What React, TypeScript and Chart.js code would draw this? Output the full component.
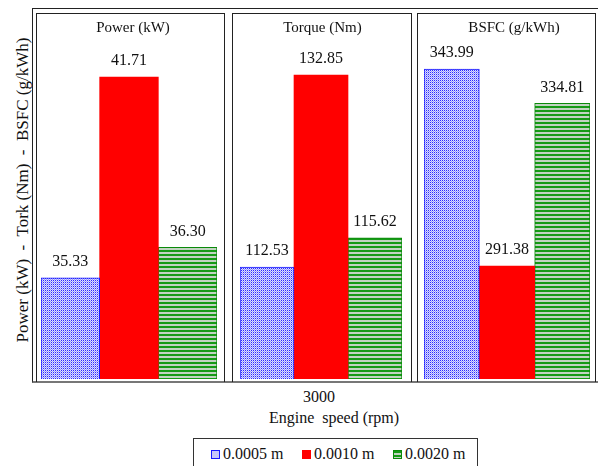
import React, { useEffect, useRef } from "react";
import { Chart, registerables } from "chart.js";
Chart.register(...registerables);

// ---- data ----
const categories = ["3000"];
const panelTitles = ["Power (kW)", "Torque (Nm)", "BSFC (g/kWh)"];
const seriesNames = ["0.0005 m", "0.0010 m", "0.0020 m"];
const series0005 = [35.33, 112.53, 343.99];
const series0010 = [41.71, 132.85, 291.38];
const series0020 = [36.3, 115.62, 334.81];
const axisMin = [32.12, 100.68, 261.2];
const axisMax = [43.71, 139.3, 358.7];

// ---- layout (page pixels) ----
const PANELS = [
  { left: 36, right: 224, padL: 4, padR: 8, titleDx: 2 },
  { left: 232, right: 411, padL: 7, padR: 10, titleDx: 0 },
  { left: 417, right: 595, padL: 6, padR: 6, titleDx: 7 },
];
const PANEL_TOP = 13;
const AXIS_BOTTOM = 381;
const CANVAS_TOP = 14;
const CANVAS_H = 366;
const SERIF = '"Liberation Serif"';

function makeBluePattern(ctx: CanvasRenderingContext2D) {
  const c = document.createElement("canvas");
  c.width = 2;
  c.height = 2;
  const g = c.getContext("2d")!;
  g.fillStyle = "#dcdcff";
  g.fillRect(0, 0, 2, 2);
  g.fillStyle = "#2a2aff";
  g.fillRect(0, 0, 1, 1);
  g.fillStyle = "#9a9aff";
  g.fillRect(1, 1, 1, 1);
  return ctx.createPattern(c, "repeat")!;
}

function makeGreenPattern(ctx: CanvasRenderingContext2D) {
  const c = document.createElement("canvas");
  c.width = 4;
  c.height = 4;
  const g = c.getContext("2d")!;
  g.fillStyle = "#c2d3c2";
  g.fillRect(0, 0, 4, 4);
  g.fillStyle = "#169a16";
  g.fillRect(0, 0, 4, 2);
  return ctx.createPattern(c, "repeat")!;
}

function Panel({ idx }: { idx: number }) {
  const ref = useRef<HTMLCanvasElement | null>(null);
  const p = PANELS[idx];
  const width = p.right - p.left;
  useEffect(() => {
    const canvas = ref.current!;
    const ctx = canvas.getContext("2d")!;
    const blue = makeBluePattern(ctx);
    const green = makeGreenPattern(ctx);
    const labelPlugin = {
      id: "labels" + idx,
      afterDatasetsDraw(chart: any) {
        const c = chart.ctx;
        c.save();
        c.fillStyle = "#111";
        c.textAlign = "center";
        c.textBaseline = "middle";
        c.font = "16px " + SERIF;
        chart.data.datasets.forEach((ds: any, i: number) => {
          const meta = chart.getDatasetMeta(i);
          meta.data.forEach((el: any, j: number) => {
            c.fillText(Number(ds.data[j]).toFixed(2), el.x, el.y - 16);
          });
        });
        c.font = "15px " + SERIF;
        c.fillText(panelTitles[idx], chart.width / 2 + p.titleDx, 14);
        c.restore();
      },
    };
    const chart = new Chart(canvas, {
      type: "bar",
      data: {
        labels: categories,
        datasets: [
          {
            label: seriesNames[0],
            data: [series0005[idx]],
            backgroundColor: blue as any,
            borderColor: "#1a1aff",
            borderWidth: 1,
          },
          {
            label: seriesNames[1],
            data: [series0010[idx]],
            backgroundColor: "#ff0000",
            borderWidth: 0,
          },
          {
            label: seriesNames[2],
            data: [series0020[idx]],
            backgroundColor: green as any,
            borderColor: "#0a8a0a",
            borderWidth: 1,
          },
        ],
      },
      options: {
        responsive: false,
        animation: false,
        font: { family: SERIF },
        layout: { padding: { left: p.padL, right: p.padR, top: 0, bottom: 1 } },
        datasets: { bar: { barPercentage: 1, categoryPercentage: 1 } },
        plugins: {
          legend: { display: false },
          tooltip: { enabled: false },
          title: { display: false },
        },
        scales: {
          x: { display: false },
          y: { display: false, min: axisMin[idx], max: axisMax[idx] },
        },
      } as any,
      plugins: [labelPlugin],
    });
    return () => chart.destroy();
  }, [idx]);
  return (
    <>
      <div
        style={{
          position: "absolute",
          left: p.left,
          top: PANEL_TOP,
          width: p.right - p.left - 1,
          height: AXIS_BOTTOM - PANEL_TOP,
          borderLeft: "1px solid #222",
          borderRight: "1px solid #222",
          borderTop: "1px solid #222",
          boxSizing: "content-box",
        }}
      />
      <canvas
        ref={ref}
        width={width}
        height={CANVAS_H}
        style={{
          position: "absolute",
          left: p.left + 1,
          top: CANVAS_TOP,
          width: width,
          height: CANVAS_H,
        }}
      />
    </>
  );
}

const swatchBase: React.CSSProperties = {
  display: "inline-block",
  width: 9,
  height: 9,
  boxSizing: "border-box",
  marginRight: 3,
  verticalAlign: "middle",
  position: "relative",
  top: -1,
};
const swatches: React.CSSProperties[] = [
  {
    ...swatchBase,
    border: "1px solid #1a1aff",
    backgroundColor: "#c8c8fa",
    backgroundImage: "radial-gradient(circle, #2a2aff 35%, transparent 45%)",
    backgroundSize: "2px 2px",
  },
  { ...swatchBase, backgroundColor: "#ff0000" },
  {
    ...swatchBase,
    border: "1px solid #0a8a0a",
    backgroundImage: "repeating-linear-gradient(to bottom, #169a16 0px, #169a16 2px, #c2d3c2 2px, #c2d3c2 4px)",
  },
];

export default function App() {
  return (
    <div
      style={{
        position: "fixed",
        left: 0,
        top: 0,
        width: 598,
        height: 466,
        background: "#fff",
        overflow: "hidden",
        fontFamily: SERIF,
        color: "#111",
      }}
    >
      {/* outer frame */}
      <div
        style={{
          position: "absolute",
          left: 32,
          top: 8,
          width: 600,
          height: AXIS_BOTTOM - 8 - 1,
          borderLeft: "1px solid #222",
          borderTop: "1px solid #222",
          borderBottom: "2px solid #777",
        }}
      />
      {PANELS.map((_, i) => (
        <Panel key={i} idx={i} />
      ))}
      {/* y axis title */}
      <div
        style={{
          position: "absolute",
          left: 23 - 200,
          top: 190 - 10,
          width: 400,
          height: 20,
          lineHeight: "20px",
          textAlign: "center",
          fontSize: 17,
          whiteSpace: "pre",
          transform: "rotate(-90deg)",
        }}
      >
        {"Power (kW)  -  Tork (Nm)  -  BSFC (g/kWh)"}
      </div>
      {/* category label */}
      <div
        style={{
          position: "absolute",
          left: 319,
          top: 389,
          transform: "translateX(-50%)",
          fontSize: 16,
          lineHeight: "16px",
          whiteSpace: "pre",
        }}
      >
        {categories[0]}
      </div>
      {/* x axis title */}
      <div
        style={{
          position: "absolute",
          left: 334,
          top: 410,
          transform: "translateX(-50%)",
          fontSize: 16,
          lineHeight: "16px",
          whiteSpace: "pre",
        }}
      >
        {"Engine  speed (rpm)"}
      </div>
      {/* legend */}
      <div
        style={{
          position: "absolute",
          left: 193,
          top: 438,
          width: 285,
          height: 32,
          border: "1px solid #333",
          boxSizing: "border-box",
        }}
      />
      {seriesNames.map((name, i) => (
        <div
          key={name}
          style={{
            position: "absolute",
            left: [211, 302, 393][i],
            top: 446,
            fontSize: 16,
            lineHeight: "16px",
            whiteSpace: "pre",
          }}
        >
          <span style={swatches[i]} />
          {name}
        </div>
      ))}
    </div>
  );
}
